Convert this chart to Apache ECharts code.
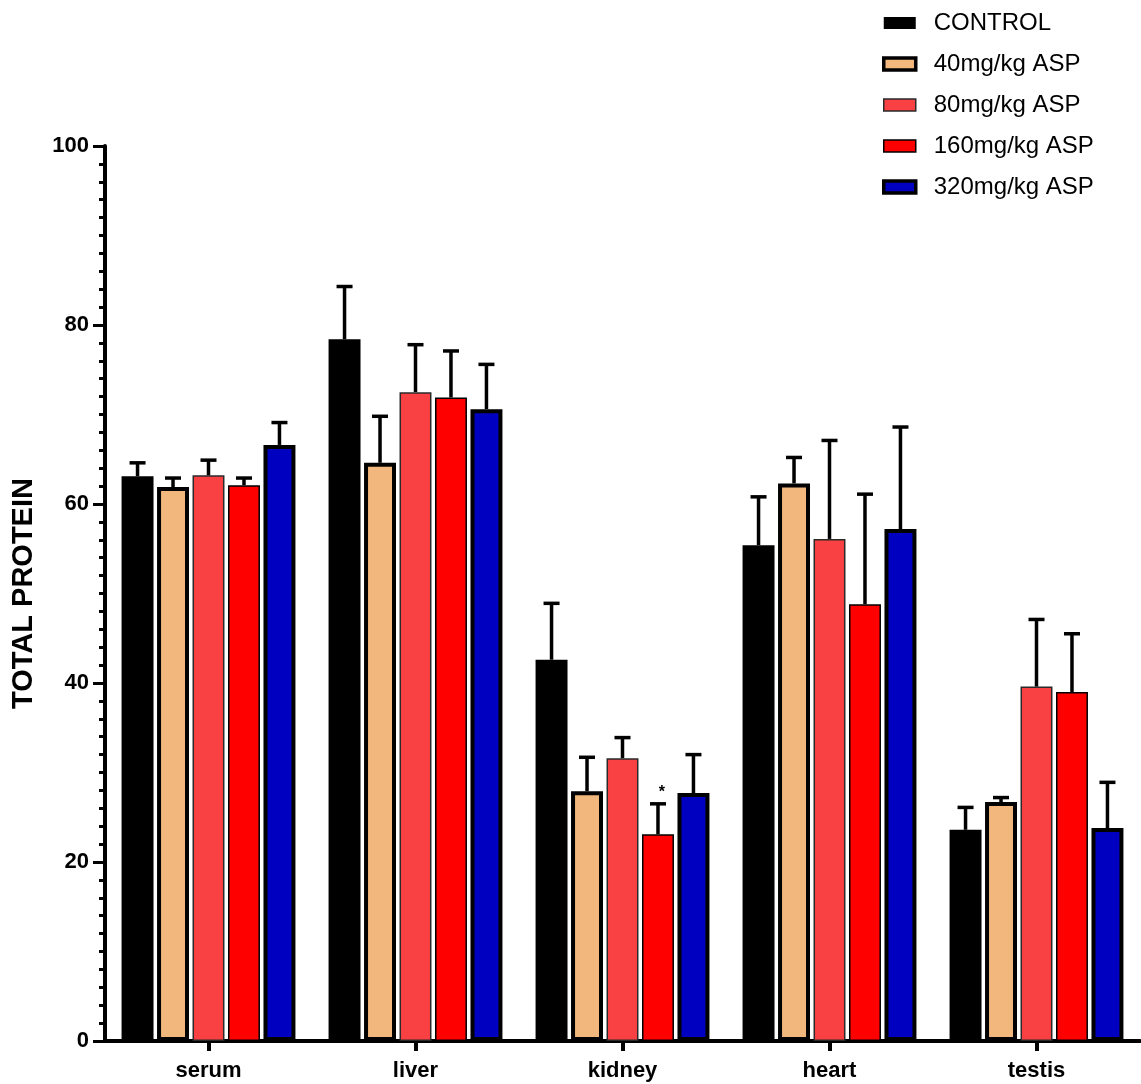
<!DOCTYPE html>
<html>
<head>
<meta charset="utf-8">
<script src="https://cdn.jsdelivr.net/npm/echarts@6/dist/echarts.min.js"></script>
<style>html,body{margin:0;padding:0;background:#fff}#c{width:1141px;height:1084px}</style>
</head>
<body>
<div id="c"></div>
<script>
const categories = ['serum', 'liver', 'kidney', 'heart', 'testis'];
const seriesNames = ['CONTROL', '40mg/kg ASP', '80mg/kg ASP', '160mg/kg ASP', '320mg/kg ASP'];
const control   = [63.1, 78.4, 42.6, 55.4, 23.6];
const asp40     = [61.9, 64.6, 27.9, 62.3, 26.7];
const asp80     = [63.2, 72.5, 31.6, 56.1, 39.6];
const asp160    = [62.1, 71.9, 23.1, 48.8, 39.0];
const asp320    = [66.6, 70.6, 27.7, 57.2, 23.8];
const controlErr = [1.5, 5.9, 6.3, 5.4, 2.5];
const asp40Err   = [1.0, 5.2, 3.8, 2.9, 0.5];
const asp80Err   = [1.7, 5.3, 2.3, 11.0, 7.5];
const asp160Err  = [0.8, 5.2, 3.4, 12.3, 6.5];
const asp320Err  = [2.5, 5.0, 4.3, 11.4, 5.1];
const asp160Sig  = ['', '', '*', '', ''];
const yTicks = [0, 20, 40, 60, 80, 100];

const values = [control, asp40, asp80, asp160, asp320];
const errs = [controlErr, asp40Err, asp80Err, asp160Err, asp320Err];
const sigs = [null, null, null, asp160Sig, null];
const colors = ['#000000', '#F1B77D', '#F94144', '#FF0000', '#0000C0'];
const borderColors = ['#000000', '#000000', '#2a2a2a', '#000000', '#000000'];
const borderWidths = [0, 4, 1.5, 1.5, 4];

const FONT = '"Liberation Sans", Arial, sans-serif';
const CAT_GAP = 0.16, BAR_GAP = 0.11, N = 5;

function makeErrSeries(i) {
  return {
    type: 'custom',
    name: seriesNames[i] + ' err',
    z: 5,
    data: categories.map((c, k) => [k, values[i][k], errs[i][k]]),
    renderItem: function (params, api) {
      const k = api.value(0), v = api.value(1), e = api.value(2);
      const band = api.size([1, 0])[0];
      const inner = band * (1 - CAT_GAP);
      const bw = inner / (N + (N - 1) * BAR_GAP);
      const off = -inner / 2 + i * bw * (1 + BAR_GAP) + bw / 2;
      const p0 = api.coord([k, v]);
      const p1 = api.coord([k, v + e]);
      const x = p0[0] + off;
      const style = { stroke: '#000', lineWidth: 3.5 };
      const children = [
        { type: 'line', shape: { x1: x, y1: p0[1], x2: x, y2: p1[1] }, style: style },
        { type: 'line', shape: { x1: x - 8, y1: p1[1], x2: x + 8, y2: p1[1] }, style: style }
      ];
      const s = sigs[i] ? sigs[i][k] : '';
      if (s) {
        children.push({ type: 'text', style: { text: s, x: x + 4, y: p1[1] - 3, textAlign: 'center', textVerticalAlign: 'bottom', font: 'bold 16px ' + FONT, fill: '#000' } });
      }
      return { type: 'group', children: children };
    }
  };
}

const barSeries = seriesNames.map((n, i) => ({
  type: 'bar',
  name: n,
  data: values[i],
  barCategoryGap: (CAT_GAP * 100) + '%',
  barGap: (BAR_GAP * 100) + '%',
  itemStyle: { color: colors[i], borderColor: borderColors[i], borderWidth: borderWidths[i] },
  emphasis: { disabled: true }
}));

const chart = echarts.init(document.getElementById('c'), null, { renderer: 'canvas' });
chart.setOption({
  animation: false,
  backgroundColor: '#fff',
  textStyle: { fontFamily: FONT },
  legend: {
    data: seriesNames.map((n, i) => ({ name: n, itemStyle: { borderWidth: borderWidths[i] === 4 ? 3.5 : borderWidths[i] } })),
    orient: 'vertical',
    left: 877,
    top: 6,
    icon: 'rect',
    itemWidth: 32,
    itemHeight: 12,
    itemGap: 17,
    textStyle: { fontSize: 24, color: '#000', fontFamily: FONT, padding: [0, 0, 0, 13] },
    selectedMode: false
  },
  grid: { left: 105, right: 1, top: 146, bottom: 43, containLabel: false },
  xAxis: {
    type: 'category',
    data: categories,
    axisLine: { lineStyle: { color: '#000', width: 4 } },
    axisTick: { show: true, alignWithLabel: true, length: 10, lineStyle: { color: '#000', width: 4 } },
    axisLabel: { fontSize: 22, fontWeight: 'bold', color: '#000', margin: 19, fontFamily: FONT },
    splitLine: { show: false }
  },
  yAxis: {
    type: 'value',
    min: yTicks[0],
    max: yTicks[yTicks.length - 1],
    interval: 20,
    name: 'TOTAL PROTEIN',
    nameLocation: 'middle',
    nameGap: 67,
    nameRotate: 90,
    nameTextStyle: { fontSize: 29, fontWeight: 'bold', color: '#000', fontFamily: FONT },
    axisLine: { show: true, lineStyle: { color: '#000', width: 4 } },
    axisTick: { show: true, length: 12, lineStyle: { color: '#000', width: 3 } },
    minorTick: { show: true, splitNumber: 10, length: 6, lineStyle: { color: '#000', width: 3 } },
    axisLabel: { fontSize: 22, fontWeight: 'bold', color: '#000', margin: 16, fontFamily: FONT },
    splitLine: { show: false }
  },
  series: barSeries.concat(seriesNames.map((n, i) => makeErrSeries(i)))
});
</script>
</body>
</html>
